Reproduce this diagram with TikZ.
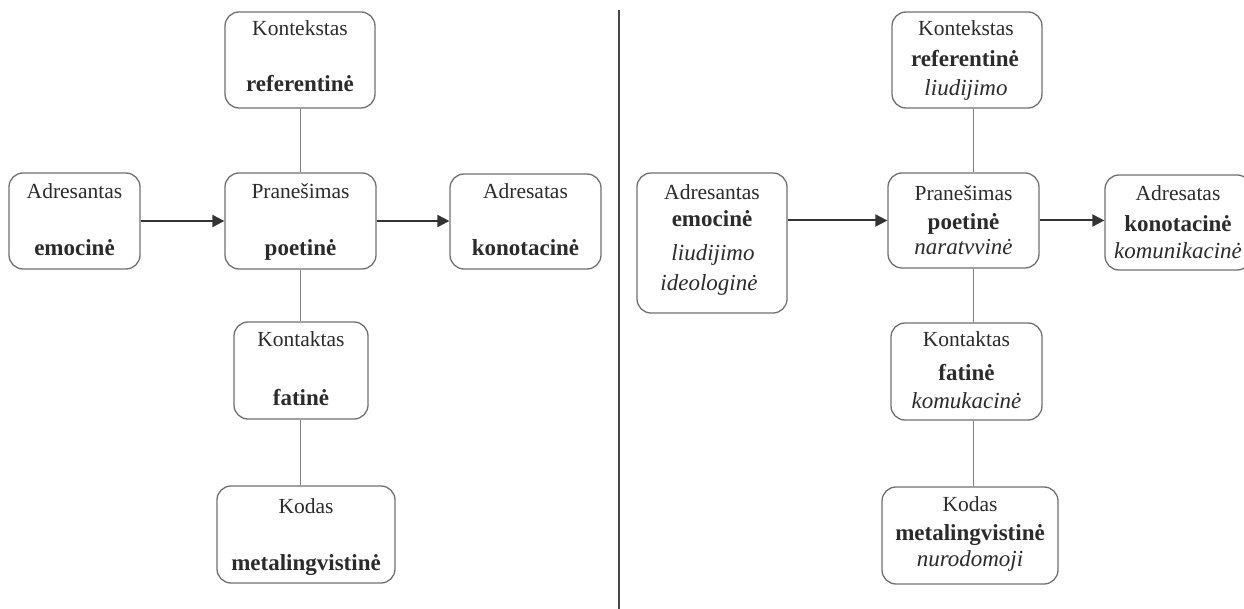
\documentclass[tikz,border=0pt]{standalone}
\usepackage{fontspec}
\setmainfont{Liberation Serif}
\usetikzlibrary{arrows.meta}
\definecolor{txt}{HTML}{2B2B2B}
\definecolor{bord}{HTML}{707070}
\definecolor{conn}{HTML}{808080}
\definecolor{arrc}{HTML}{333333}
\tikzset{
  box/.style={draw=bord, line width=1.3pt, rounded corners=14pt, inner sep=0pt, fill=none},
  lbl/.style={anchor=mid, inner sep=0pt, text=txt, font=\fontsize{21.5}{25}\selectfont},
  blbl/.style={lbl, font=\fontsize{23}{27}\selectfont\bfseries},
  ilbl/.style={lbl, font=\fontsize{23}{27}\selectfont\itshape},
  conline/.style={draw=conn, line width=1pt},
  arr/.style={draw=arrc, line width=2pt, -{Triangle[length=12pt,width=12pt]}},
  divider/.style={draw=arrc!90, line width=2pt}
}
\newcommand{\mkbox}[5]{\node[box, minimum width=#4pt, minimum height=#5pt] (#1) at (#2,#3) {};}
\begin{document}
\begin{tikzpicture}[x=1pt,y=-1pt]
\useasboundingbox (0,0) rectangle (1244,609);
% ---------- left panel ----------
\mkbox{Lctx}{300}{60}{150}{96}
\mkbox{Lsnd}{74.5}{221}{131}{96}
\mkbox{Lmsg}{300.5}{221}{151}{96}
\mkbox{Lrcv}{525.5}{221.5}{151}{95}
\mkbox{Lcon}{301}{370.5}{134}{97}
\mkbox{Lcod}{306}{534.5}{178}{97}
\node[lbl]  (Lctx1) at (300,33) {Kontekstas};
\node[blbl] (Lctx2) at (300,89) {referentinė};
\node[lbl]  (Lsnd1) at (74.5,196) {Adresantas};
\node[blbl] (Lsnd2) at (74.5,253) {emocinė};
\node[lbl]  (Lmsg1) at (300.5,196) {Pranešimas};
\node[blbl] (Lmsg2) at (300.5,253) {poetinė};
\node[lbl]  (Lrcv1) at (525.5,196) {Adresatas};
\node[blbl] (Lrcv2) at (525.5,253) {konotacinė};
\node[lbl]  (Lcon1) at (301,344) {Kontaktas};
\node[blbl] (Lcon2) at (301,403) {fatinė};
\node[lbl]  (Lcod1) at (306,511) {Kodas};
\node[blbl] (Lcod2) at (306,568) {metalingvistinė};
\draw[conline] (Lctx.south) -- (Lctx.south |- Lmsg.north);
\draw[conline] (Lmsg.south) -- (Lmsg.south |- Lcon.north);
\draw[conline] (Lcon.south -| Lmsg.south) -- (Lmsg.south |- Lcod.north);
\draw[arr] (Lsnd.east) -- (Lmsg.west);
\draw[arr] (Lmsg.east) -- (Lrcv.west |- Lmsg.east);
% ---------- divider ----------
\coordinate (dtop) at (619,10);
\coordinate (dbot) at (619,609);
\draw[divider] (dtop) -- (dbot);
% ---------- right panel ----------
\mkbox{Rctx}{967}{60}{150}{96}
\mkbox{Rsnd}{712}{243}{150}{140}
\mkbox{Rmsg}{963.5}{220.5}{151}{95}
\mkbox{Rrcv}{1178}{222.5}{146}{95}
\mkbox{Rcon}{966.5}{371.5}{151}{97}
\mkbox{Rcod}{970}{535.5}{176}{97}
\node[lbl]  (Rctx1) at (966,33) {Kontekstas};
\node[blbl] (Rctx2) at (965,64) {referentinė};
\node[ilbl] (Rctx3) at (966,93) {liudijimo};
\node[lbl]  (Rsnd1) at (712,197) {Adresantas};
\node[blbl] (Rsnd2) at (712,224) {emocinė};
\node[ilbl] (Rsnd3) at (713,258) {liudijimo};
\node[ilbl] (Rsnd4) at (709,288) {ideologinė};
\node[lbl]  (Rmsg1) at (963.5,198) {Pranešimas};
\node[blbl] (Rmsg2) at (963.5,227) {poetinė};
\node[ilbl] (Rmsg3) at (963.5,252) {naratvvinė};
\node[lbl]  (Rrcv1) at (1178,198) {Adresatas};
\node[blbl] (Rrcv2) at (1178,229) {konotacinė};
\node[ilbl] (Rrcv3) at (1178,256) {komunikacinė};
\node[lbl]  (Rcon1) at (966.5,344) {Kontaktas};
\node[blbl] (Rcon2) at (966.5,378) {fatinė};
\node[ilbl] (Rcon3) at (966.5,406) {komukacinė};
\node[lbl]  (Rcod1) at (970,509) {Kodas};
\node[blbl] (Rcod2) at (970,538) {metalingvistinė};
\node[ilbl] (Rcod3) at (970,564) {nurodomoji};
\coordinate (rx) at (973,0);
\draw[conline] (Rctx.south -| rx) -- (Rmsg.north -| rx);
\draw[conline] (Rmsg.south -| rx) -- (Rcon.north -| rx);
\draw[conline] (Rcon.south -| rx) -- (Rcod.north -| rx);
\draw[arr] (Rsnd.east |- Rmsg.west) -- (Rmsg.west);
\draw[arr] (Rmsg.east) -- (Rrcv.west |- Rmsg.east);
\end{tikzpicture}
\end{document}
